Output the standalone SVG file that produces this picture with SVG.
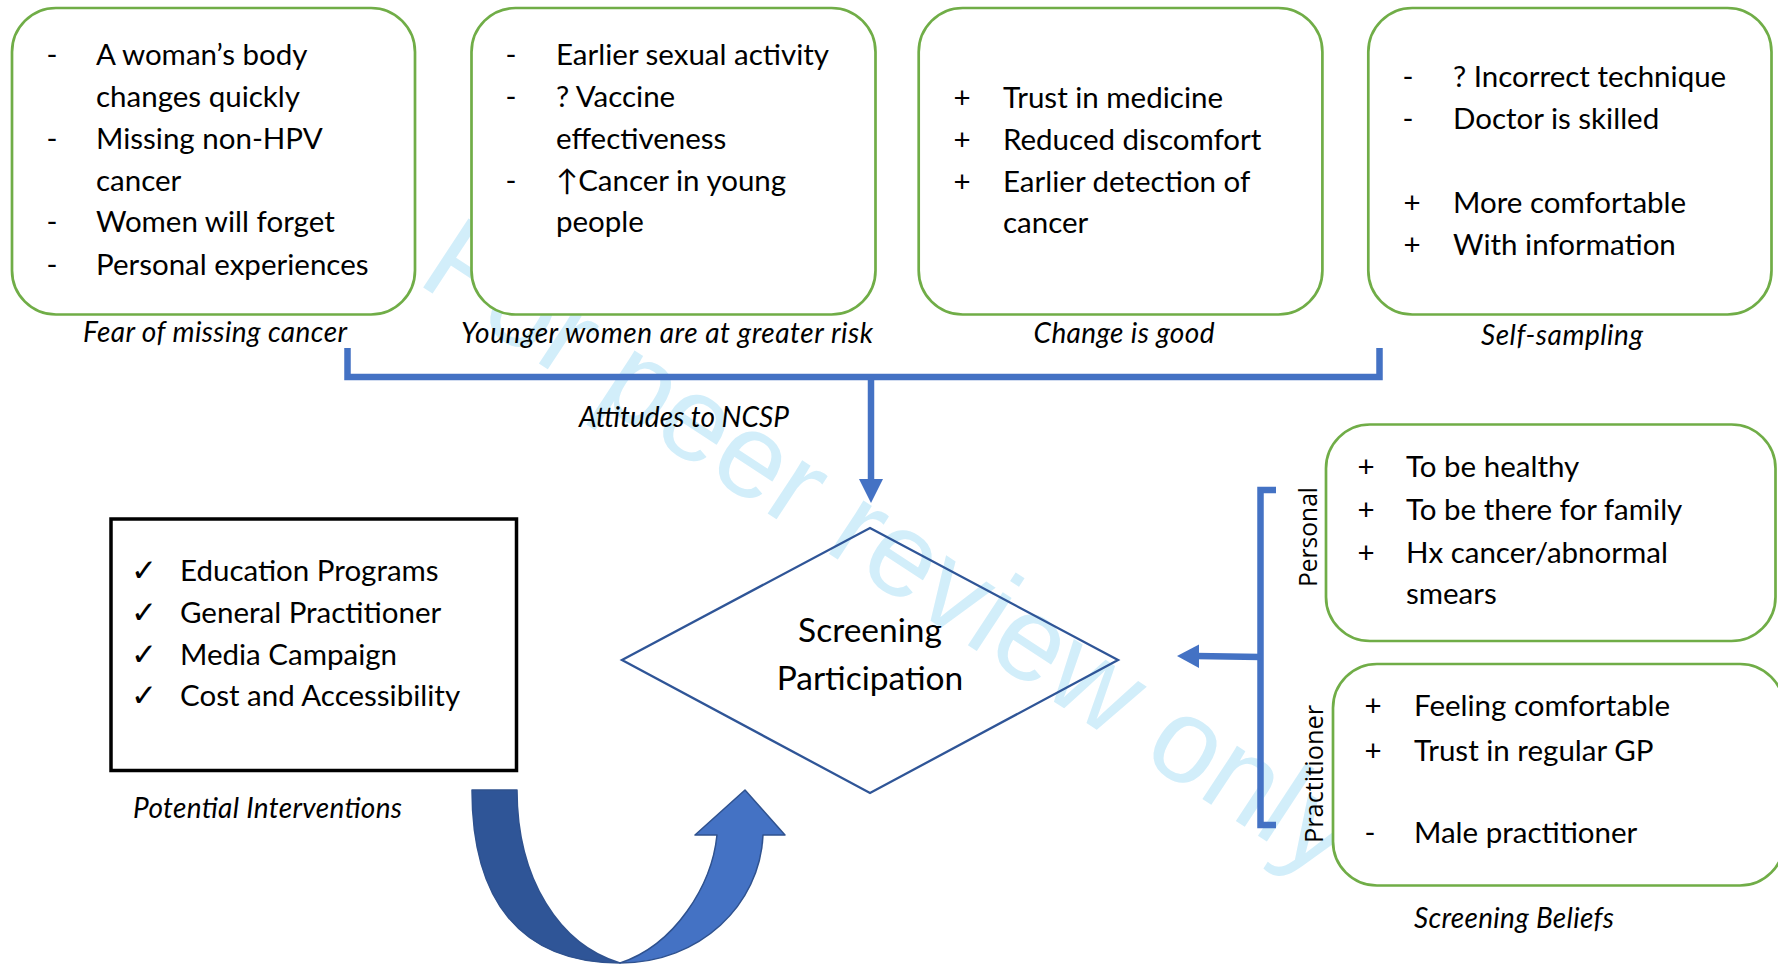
<svg xmlns="http://www.w3.org/2000/svg" width="1778" height="965" viewBox="0 0 1778 965">
<style>
.bg{fill:#ffffff}
.wm{font-family:"Liberation Sans",Arial,sans-serif;font-size:120px;fill:#D2EEFA}
.box{fill:#ffffff;stroke:#70AD47;stroke-width:2.7}
.t{font-family:Lato,"Open Sans",sans-serif;font-size:29.5px;fill:#000}
.m{font-family:Lato,"Open Sans",sans-serif;font-size:29.5px;fill:#000;text-anchor:middle}
.ck{font-family:"DejaVu Sans",sans-serif;font-size:31px;fill:#000}
.lbl{font-family:Lato,"Open Sans",sans-serif;font-style:italic;font-size:28px;fill:#000;text-anchor:middle}
.rot{font-family:"Open Sans","Liberation Sans",sans-serif;font-size:25px;fill:#000;text-anchor:middle}
.dia{fill:none;stroke:#2F5597;stroke-width:2.3}
.big{font-family:Lato,"Open Sans",sans-serif;font-size:33.5px;fill:#000;text-anchor:middle}
.conn{fill:none;stroke:#4472C4;stroke-width:6.5}
.head{fill:#4472C4}
.uturn{stroke:#2F528F;stroke-width:1.5;stroke-linejoin:round}
</style>
<rect class="bg" x="0" y="0" width="1778" height="965"/>

<g id="watermark">
<text class="wm" transform="translate(415,282) rotate(33.3)">For peer review only</text>
</g>

<g id="node-fear">
<rect class="box" x="12" y="8" width="403" height="306.5" rx="44" ry="44"/>
<text class="m" x="52" y="65">-</text>
<text class="t" x="96" y="65">A woman’s body</text>
<text class="t" x="96" y="107">changes quickly</text>
<text class="m" x="52" y="149">-</text>
<text class="t" x="96" y="149">Missing non-HPV</text>
<text class="t" x="96" y="191">cancer</text>
<text class="m" x="52" y="232">-</text>
<text class="t" x="96" y="232">Women will forget</text>
<text class="m" x="52" y="275">-</text>
<text class="t" x="96" y="275">Personal experiences</text>
<text class="lbl" x="215" y="342" textLength="264" lengthAdjust="spacing">Fear of missing cancer</text>
</g>

<g id="node-younger">
<rect class="box" x="471.5" y="8" width="404" height="306.5" rx="44" ry="44"/>
<text class="m" x="511" y="65">-</text>
<text class="t" x="556" y="65">Earlier sexual activity</text>
<text class="m" x="511" y="107">-</text>
<text class="t" x="556" y="107">? Vaccine</text>
<text class="t" x="556" y="149">effectiveness</text>
<text class="m" x="511" y="191">-</text>
<text class="t" x="556" y="191">↑Cancer in young</text>
<text class="t" x="556" y="232">people</text>
<text class="lbl" x="667" y="343" textLength="412" lengthAdjust="spacing">Younger women are at greater risk</text>
</g>

<g id="node-change">
<rect class="box" x="918.7" y="8" width="403.7" height="306.5" rx="44" ry="44"/>
<text class="m" x="962" y="108">+</text>
<text class="t" x="1003" y="108">Trust in medicine</text>
<text class="m" x="962" y="150">+</text>
<text class="t" x="1003" y="150">Reduced discomfort</text>
<text class="m" x="962" y="192">+</text>
<text class="t" x="1003" y="192">Earlier detection of</text>
<text class="t" x="1003" y="233">cancer</text>
<text class="lbl" x="1124" y="343" textLength="181" lengthAdjust="spacing">Change is good</text>
</g>

<g id="node-self">
<rect class="box" x="1368.3" y="8" width="403.2" height="306.5" rx="44" ry="44"/>
<text class="m" x="1408" y="87">-</text>
<text class="t" x="1453" y="87">? Incorrect technique</text>
<text class="m" x="1408" y="129">-</text>
<text class="t" x="1453" y="129">Doctor is skilled</text>
<text class="m" x="1412" y="213">+</text>
<text class="t" x="1453" y="213">More comfortable</text>
<text class="m" x="1412" y="255">+</text>
<text class="t" x="1453" y="255">With information</text>
<text class="lbl" x="1562" y="345" textLength="162" lengthAdjust="spacing">Self-sampling</text>
</g>

<g id="node-screening">
<polygon class="dia" points="870,528 1118,660 870,793 622,660"/>
<text class="big" x="870" y="642">Screening</text>
<text class="big" x="870" y="690">Participation</text>
</g>

<g id="node-interventions">
<rect x="111" y="519" width="405.5" height="251.5" fill="#ffffff" stroke="#000" stroke-width="3.5"/>
<text class="ck" x="131" y="581">✓</text>
<text class="t" x="180" y="581">Education Programs</text>
<text class="ck" x="131" y="623">✓</text>
<text class="t" x="180" y="623">General Practitioner</text>
<text class="ck" x="131" y="665">✓</text>
<text class="t" x="180" y="665">Media Campaign</text>
<text class="ck" x="131" y="706">✓</text>
<text class="t" x="180" y="706">Cost and Accessibility</text>
<text class="lbl" x="267.5" y="818" textLength="269" lengthAdjust="spacing">Potential Interventions</text>
</g>

<g id="node-personal">
<rect class="box" x="1326" y="424.5" width="449.5" height="216.5" rx="44" ry="44"/>
<text class="m" x="1366" y="477">+</text>
<text class="t" x="1406" y="477">To be healthy</text>
<text class="m" x="1366" y="520">+</text>
<text class="t" x="1406" y="520">To be there for family</text>
<text class="m" x="1366" y="563">+</text>
<text class="t" x="1406" y="563">Hx cancer/abnormal</text>
<text class="t" x="1406" y="604">smears</text>
<text class="rot" transform="translate(1317,537) rotate(-90)" textLength="100" lengthAdjust="spacingAndGlyphs">Personal</text>
</g>

<g id="node-practitioner">
<rect class="box" x="1333" y="664" width="451" height="221.5" rx="44" ry="44"/>
<text class="m" x="1373" y="716">+</text>
<text class="t" x="1414" y="716">Feeling comfortable</text>
<text class="m" x="1373" y="761">+</text>
<text class="t" x="1414" y="761">Trust in regular GP</text>
<text class="m" x="1370" y="843">-</text>
<text class="t" x="1414" y="843">Male practitioner</text>
<text class="rot" transform="translate(1323,774) rotate(-90)" textLength="138" lengthAdjust="spacingAndGlyphs">Practitioner</text>
<text class="lbl" x="1514" y="928" textLength="200" lengthAdjust="spacing">Screening Beliefs</text>
</g>

<g id="connectors">
<path class="conn" d="M347.5,348 V377 H1379.5 V348"/>
<line class="conn" x1="871" y1="377" x2="871" y2="481"/>
<polygon class="head" points="859,479 883,479 871,503"/>
<text class="lbl" x="684" y="427" textLength="210" lengthAdjust="spacing">Attitudes to NCSP</text>
<path class="conn" d="M1276,490 H1260.5 V825 H1276"/>
<line class="conn" x1="1260.5" y1="657" x2="1196" y2="656"/>
<polygon class="head" points="1199,644.5 1199,668 1177,656"/>
</g>

<g id="uturn-arrow">
<path class="uturn" fill="#2F5597" d="M472,790 L517,790 C517,880 560,945 620,963 C520,963 472,900 472,790 Z"/>
<path class="uturn" fill="#4472C4" d="M620,963 C700,963 760,905 763,835 L785,835 L745,790 L695,835 L717,835 C712,885 675,945 620,963 Z"/>
</g>
</svg>
